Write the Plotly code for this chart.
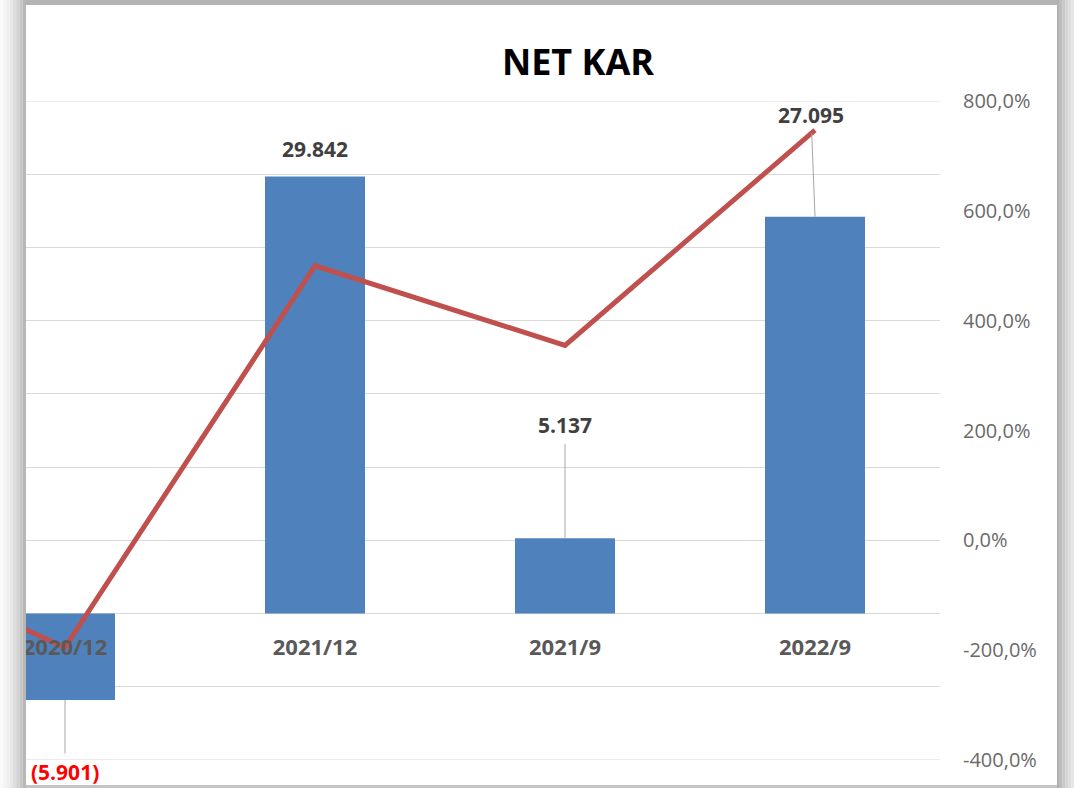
import plotly.graph_objects as go

# ---- data ----
categories = ["2020/12", "2021/12", "2021/9", "2022/9"]
net_kar = [-5901, 29842, 5137, 27095]          # bars (primary axis)
net_kar_labels = ["(5.901)", "29.842", "5.137", "27.095"]
degisim_pct = [-195, 500, 355, 747]            # line (secondary axis, %)
prev_period_pct = 10                           # preceding period, off-chart to the left
pct_ticks = [-400, -200, 0, 200, 400, 600, 800]
pct_ticktext = ["-400,0%", "-200,0%", "0,0%", "200,0%", "400,0%", "600,0%", "800,0%"]

W, H = 1074, 788
ML, MR, MT, MB = 26, 134, 101, 28
y1_range = [-10000, 35000]
y2_range = [-400, 800]

idx = list(range(len(categories)))
FONT = "Open Sans"

fig = go.Figure()
fig.add_trace(go.Bar(
    x=idx, y=net_kar, width=0.4, marker=dict(color="#4f81bd", line=dict(width=0)),
    yaxis="y", hoverinfo="skip"))
fig.add_trace(go.Scatter(
    x=[-1] + idx, y=[prev_period_pct] + degisim_pct, mode="lines",
    line=dict(color="#c0504d", width=5), yaxis="y2", hoverinfo="skip"))

# data labels
label_cfg = [
    dict(showarrow=True, ax=0, ay=72),
    dict(showarrow=False, yshift=28),
    dict(showarrow=True, ax=0, ay=-113),
    dict(showarrow=True, ax=-4, ay=-102),
]
annotations = []
for i, (v, t, cfg) in enumerate(zip(net_kar, net_kar_labels, label_cfg)):
    col = "#ff0000" if v < 0 else "#404040"
    a = dict(x=i, y=v, xref="x", yref="y", text=f"<b>{t}</b>",
             font=dict(family=FONT, size=21, color=col))
    if cfg["showarrow"]:
        a.update(showarrow=True, ax=cfg["ax"], ay=cfg["ay"], arrowhead=0,
                 arrowwidth=1, arrowcolor="#a6a6a6", standoff=0, startstandoff=0,
                 borderpad=4)
    else:
        a.update(showarrow=False, yanchor="middle", yshift=cfg["yshift"])
    annotations.append(a)

shapes = []
# gridlines at the range edges (plotly skips them)
for yv in y1_range:
    shapes.append(dict(type="line", xref="paper", yref="y", x0=0, x1=1, y0=yv, y1=yv,
                       line=dict(color="#d9d9d9", width=1), layer="below"))

# frame (screenshot shadow)
def px2paperx(px):
    return (px - ML) / (W - ML - MR)
def px2papery(py):
    return 1 - (py - MT) / (H - MT - MB)
left_cols = ["#f9f9f9", "#f4f4f4", "#eeeeee", "#e8e8e8", "#dedede", "#d2d2d2", "#c4c4c4", "#b7b7b7"]
step = 26 / len(left_cols)
for k, c in enumerate(left_cols):
    shapes.append(dict(type="rect", xref="paper", yref="paper",
                       x0=px2paperx(k * step), x1=px2paperx((k + 1) * step),
                       y0=px2papery(H), y1=px2papery(0), fillcolor=c, line=dict(width=0), layer="above"))
right_cols = ["#b0b0b0", "#bdbdbd", "#c8c8c8", "#d3d3d3", "#dddddd", "#e6e6e6"]
step = 17 / len(right_cols)
for k, c in enumerate(right_cols):
    shapes.append(dict(type="rect", xref="paper", yref="paper",
                       x0=px2paperx(1057 + k * step), x1=px2paperx(1057 + (k + 1) * step),
                       y0=px2papery(H), y1=px2papery(0), fillcolor=c, line=dict(width=0), layer="above"))
shapes.append(dict(type="rect", xref="paper", yref="paper",
                   x0=px2paperx(26), x1=px2paperx(1057), y0=px2papery(5), y1=px2papery(0),
                   fillcolor="#b3b3b3", line=dict(width=0), layer="above"))
shapes.append(dict(type="rect", xref="paper", yref="paper",
                   x0=px2paperx(26), x1=px2paperx(1057), y0=px2papery(H), y1=px2papery(785),
                   fillcolor="#c4c4c4", line=dict(width=0), layer="above"))

fig.update_layout(
    width=W, height=H,
    margin=dict(l=ML, r=MR, t=MT, b=MB, pad=0),
    paper_bgcolor="white", plot_bgcolor="white",
    showlegend=False,
    title=dict(text="<b>NET KAR</b>", x=578 / W, xanchor="center", xref="container",
               y=1 - 62 / H, yanchor="middle", yref="container",
               font=dict(family=FONT, size=36, color="#000000")),
    xaxis=dict(range=[-0.156, 3.5], tickvals=idx, ticktext=[f"<b>{c}</b>" for c in categories],
               showgrid=False, zeroline=False, showline=False, ticks="",
               anchor="free", position=(0 - y1_range[0]) / (y1_range[1] - y1_range[0]),
               ticklabelstandoff=18,
               tickfont=dict(family=FONT, size=22, color="#595959")),
    yaxis=dict(range=y1_range, dtick=5000, showgrid=True, gridcolor="#d9d9d9", gridwidth=1,
               zeroline=True, zerolinecolor="#d9d9d9", zerolinewidth=1,
               showticklabels=False, ticks="", showline=False),
    yaxis2=dict(range=y2_range, overlaying="y", side="right", tickvals=pct_ticks,
                ticktext=pct_ticktext, showgrid=False, zeroline=False, ticks="",
                showline=False, ticklabelstandoff=22,
                tickfont=dict(family=FONT, size=20, color="#6a6a6a")),
    annotations=annotations,
    shapes=shapes,
)

fig.write_html("out.html")
